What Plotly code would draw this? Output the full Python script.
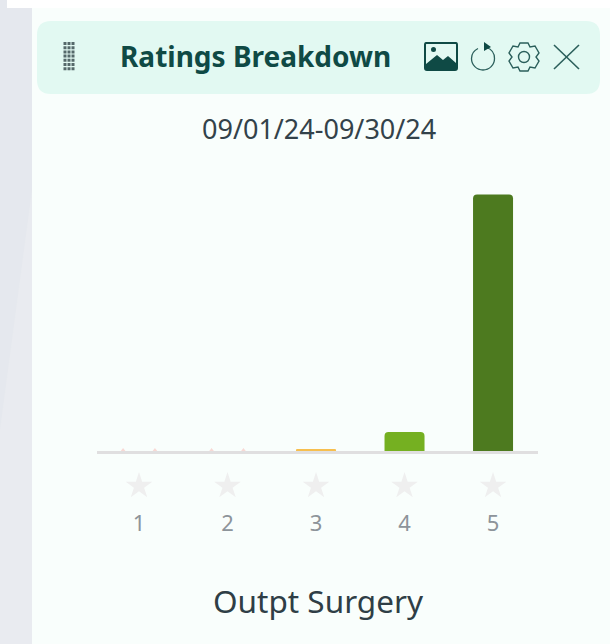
import plotly.graph_objects as go

ratings = ["1", "2", "3", "4", "5"]
counts = [0, 0, 1, 10, 135]
bar_colors = ["#f6c9c4", "#f6c9c4", "#f7bf4f", "#75b021", "#4d7a1f"]
title = "Ratings Breakdown"
date_range = "09/01/24-09/30/24"
department = "Outpt Surgery"

W, H = 610, 644
FONT = "Noto Sans"
DARK = "#0f4a45"

def dy(a, b):
    return [1 - b / H, 1 - a / H]

def X(v):
    return round(v / W, 5)

def Y(v):
    return round(1 - v / H, 5)

def paper_path(points):
    out = []
    for cmd, coords in points:
        out.append(cmd + " ".join(f"{X(c[0])},{Y(c[1])}" for c in coords))
    return " ".join(out) + " Z"

def paper_rect(x0, x1, y0, y1, color):
    return dict(type="rect", xref="paper", yref="paper", layer="below",
                x0=X(x0), x1=X(x1), y0=Y(y1), y1=Y(y0), fillcolor=color, line_width=0)

fig = go.Figure()
fig.add_bar(x=[0, 1, 2, 3, 4], y=counts, marker=dict(color=bar_colors, line_width=0),
            width=0.452, hoverinfo="skip", showlegend=False)
fig.add_scatter(x=[0, 1, 2, 3, 4], y=[0.5] * 5, yaxis="y3", mode="markers",
                marker=dict(symbol="star", size=20, color="#efefef"),
                hoverinfo="skip", showlegend=False, cliponaxis=False)
# faint corner specks of the two empty bars
fig.add_scatter(x=[-0.18, 0.18, 0.82, 1.18], y=[0.5] * 4, mode="markers",
                marker=dict(symbol="triangle-up", size=4, color="#f8d9d5"),
                hoverinfo="skip", showlegend=False, cliponaxis=False)

shapes = [
    paper_rect(0, 610, 0, 644, "#f9fefc"),
    paper_rect(0, 32, 0, 644, "#e5e8ee"),
    dict(type="path", xref="paper", yref="paper", layer="below", fillcolor="#e9ebf0", line_width=0,
         path=paper_path([("M", [(32, 190)]), ("L", [(32, 644)]), ("L", [(0, 644)]), ("L", [(0, 430)])])),
    paper_rect(7, 610, 0, 8, "#ffffff"),
    dict(type="path", xref="paper", yref="paper", layer="below", fillcolor="#e2f9f2", line_width=0,
         path=paper_path([
             ("M", [(51, 21)]), ("L", [(586, 21)]), ("Q", [(600, 21), (600, 35)]),
             ("L", [(600, 80)]), ("Q", [(600, 94), (586, 94)]),
             ("L", [(51, 94)]), ("Q", [(37, 94), (37, 80)]),
             ("L", [(37, 35)]), ("Q", [(37, 21), (51, 21)])])),
]
ic = dict(xref="x2", yref="y2", layer="above")
for x in (65, 69, 73):
    shapes.append(dict(type="line", x0=x, x1=x, y0=42, y1=71,
                       line=dict(color="#55696a", width=3, dash="3px,1.2px"), **ic))
shapes += [
    # image icon
    dict(type="path", path="M426,43 L456,43 Q457,43 457,45 L457,68 Q457,70 455,70 L427,70 Q425,70 425,68 L425,45 Q425,43 426,43 Z",
         fillcolor="rgba(0,0,0,0)", line=dict(color=DARK, width=2), **ic),
    dict(type="path", path="M426,69 L426,64 L437,55 L443,60 L448,56 L456,63 L456,69 Z",
         fillcolor=DARK, line_width=0, **ic),
    dict(type="circle", x0=431, x1=436, y0=47, y1=52, fillcolor=DARK, line_width=0, **ic),
    # reload icon
    dict(type="path",
         path="M478,48.5 C474,50.5 471.5,54 471.5,58.5 C471.5,64.9 476.6,70 483,70 C489.4,70 494.5,64.9 494.5,58.5 C494.5,53 491,49 486.5,47.5",
         fillcolor="rgba(0,0,0,0)", line=dict(color="#2b5f5b", width=1.3), **ic),
    dict(type="path", path="M484,42 L491,47 L484,51 Z", fillcolor=DARK, line_width=0, **ic),
    # gear icon
    dict(type="path",
         path="M520,43 L528,43 L530,47 L535,46 L539,53 L536,57 L539,61 L535,68 L530,67 L528,71 L520,71 L518,67 L513,68 L509,61 L512,57 L509,53 L513,46 L518,47 Z",
         fillcolor="rgba(0,0,0,0)", line=dict(color="#2b5f5b", width=1.4), **ic),
    dict(type="circle", x0=518.5, x1=529.5, y0=51.5, y1=62.5, fillcolor="rgba(0,0,0,0)",
         line=dict(color="#2b5f5b", width=1.4), **ic),
    # close icon
    dict(type="line", x0=554, x1=579, y0=45, y1=69, line=dict(color="#2b5f5b", width=1.6), **ic),
    dict(type="line", x0=579, x1=554, y0=45, y1=69, line=dict(color="#2b5f5b", width=1.6), **ic),
]

ann = dict(xref="x2", yref="y2", showarrow=False, xanchor="center", yanchor="middle")
annotations = [
    dict(x=255.5, y=56, text=f"<b>{title}</b>", font=dict(family=FONT, size=28, color=DARK), **ann),
    dict(x=318.5, y=128, text=date_range, font=dict(family=FONT, size=27, color="#33424a"), **ann),
    dict(x=318, y=600, text=department, font=dict(family=FONT, size=31.5, color="#2f3e46"), **ann),
]

fig.update_layout(
    width=W, height=H, margin=dict(l=0, r=0, t=0, b=0),
    paper_bgcolor="#f9fefc", plot_bgcolor="rgba(0,0,0,0)",
    barcornerradius=4,
    shapes=shapes, annotations=annotations,
    xaxis=dict(domain=[97 / W, 538 / W], range=[-0.4746, 4.508], tickmode="array",
               tickvals=[0, 1, 2, 3, 4], ticktext=ratings, ticks="outside", ticklen=51,
               tickcolor="rgba(0,0,0,0)", showgrid=False, zeroline=False,
               showline=True, linecolor="#e0dfe0", linewidth=3,
               tickfont=dict(family=FONT, size=22, color="#8d949a"), anchor="y"),
    yaxis=dict(domain=dy(180, 451), range=[0, 142.6], visible=False, anchor="x"),
    xaxis2=dict(domain=[0, 1], range=[0, W], visible=False, anchor="y2"),
    yaxis2=dict(domain=[0, 1], range=[H, 0], visible=False, anchor="x2"),
    yaxis3=dict(domain=dy(466, 506), range=[0, 1], visible=False, anchor="x"),
)
fig.write_html("out.html", config=dict(displayModeBar=False),
               post_script="document.body.style.margin='0';")
